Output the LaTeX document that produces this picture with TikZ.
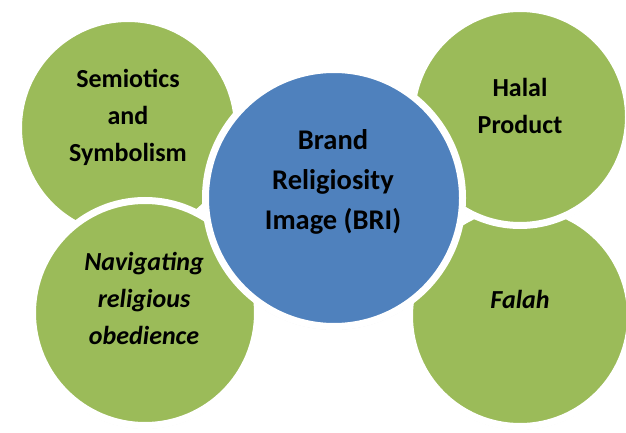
\documentclass[tikz,border=0pt]{standalone}
\usepackage{fontspec}
\setmainfont{Carlito}
\usetikzlibrary{shadows}
\definecolor{leaf}{HTML}{9BBB59}
\definecolor{sky}{HTML}{4F81BD}
\tikzset{
  bubble/.style={circle, draw=white, line width=7pt, inner sep=0pt,
    drop shadow={opacity=0.18, shadow xshift=0pt, shadow yshift=-2pt, shadow scale=1.01}},
  greenbub/.style={bubble, fill=leaf},
  bluebub/.style={bubble, fill=sky},
  lbl/.style={align=center, text=black, font=\fontsize{26}{37}\selectfont\bfseries},
  blbl/.style={align=center, text=black, font=\fontsize{28.5}{40}\selectfont\bfseries}
}
\begin{document}
\begin{tikzpicture}[x=1pt,y=-1pt]
\useasboundingbox (0,0) rectangle (626,433);
\node[greenbub, minimum size=219pt] (semi) at (128,128) {};
\node[greenbub, minimum size=225pt] (navi) at (145,313) {};
\node[greenbub, minimum size=221pt] (falah) at (520,316) {};
\node[greenbub, minimum size=217pt] (halal) at (520,117) {};
\node[bluebub, minimum size=257pt] (bri) at (334,198) {};
\node[lbl] (semit) at (128,117) {Semiotics\\and\\Symbolism};
\node[lbl] (navit) at (144,298) {\itshape Navigating\\\itshape religious\\\itshape obedience};
\node[lbl] (halalt) at (520,106) {Halal\\Product};
\node[lbl] (falaht) at (520,299) {\itshape Falah};
\node[blbl] (brit) at (333,182) {Brand\\Religiosity\\Image (BRI)};
\end{tikzpicture}
\end{document}
